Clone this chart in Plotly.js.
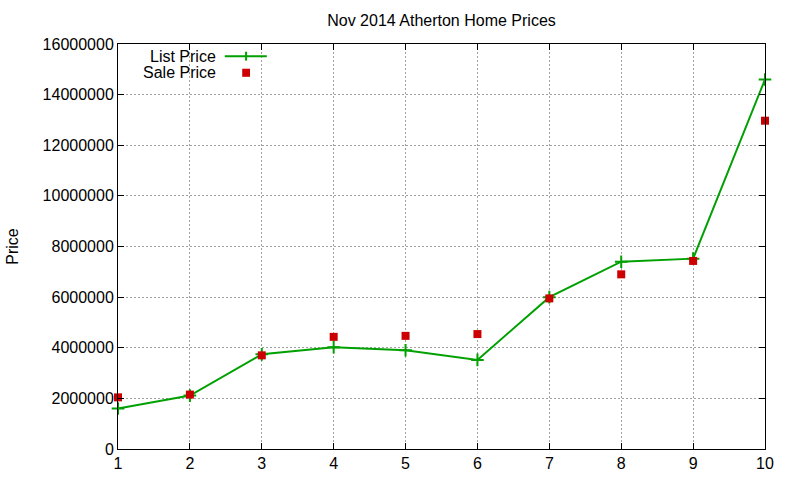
<!DOCTYPE html>
<html>
<head>
<meta charset="utf-8">
<script src="https://cdn.plot.ly/plotly-3.0.1.min.js"></script>
<style>
  body { margin: 0; background: #fff; }
  #graph { width: 800px; height: 480px; }
</style>
</head>
<body>
<div id="graph"></div>
<script>
// Nov 2014 Atherton
const homes = [1, 2, 3, 4, 5, 6, 7, 8, 9, 10];
const listPrice = [1600000, 2110000, 3740000, 4020000, 3900000, 3520000, 6000000, 7400000, 7520000, 14600000];
const salePrice = [2040000, 2150000, 3700000, 4430000, 4470000, 4540000, 5950000, 6900000, 7430000, 12970000];
const yTicks = [0, 2000000, 4000000, 6000000, 8000000, 10000000, 12000000, 14000000, 16000000];

const green = '#00a000';
const red = '#cc0000';
const font = { family: 'Liberation Sans, Arial, sans-serif', size: 16, color: '#000' };

const listTrace = {
  x: homes,
  y: listPrice,
  mode: 'lines+markers',
  name: 'List Price',
  line: { color: green, width: 2 },
  marker: { symbol: 'cross-thin', size: 9, line: { color: green, width: 2 } },
  cliponaxis: false
};
const saleTrace = {
  x: homes,
  y: salePrice,
  mode: 'markers',
  name: 'Sale Price',
  marker: { symbol: 'square', size: 8, color: red },
  cliponaxis: false
};

// gnuplot style key: text on the left, sample on the right
const keyY1 = 0.970, keyY2 = 0.929;
const shapes = [
  { type: 'line', xref: 'paper', yref: 'paper', x0: 0.165, x1: 0.230, y0: keyY1, y1: keyY1,
    line: { color: green, width: 2 } },
  { type: 'line', xref: 'paper', yref: 'paper', x0: 0.198, x1: 0.198, y0: keyY1 - 0.011, y1: keyY1 + 0.011,
    line: { color: green, width: 2 } },
  { type: 'rect', xref: 'paper', yref: 'paper', x0: 0.192, x1: 0.204, y0: keyY2 - 0.010, y1: keyY2 + 0.010,
    fillcolor: red, line: { width: 0 } }
];
const annotations = [
  { text: 'List Price', xref: 'paper', yref: 'paper', x: 0.153, y: keyY1, xanchor: 'right', yanchor: 'middle',
    showarrow: false, font: font, height: 15, borderpad: 0, valign: 'middle' },
  { text: 'Sale Price', xref: 'paper', yref: 'paper', x: 0.153, y: keyY2, xanchor: 'right', yanchor: 'middle',
    showarrow: false, font: font, height: 15, borderpad: 0, valign: 'middle' }
];

const axisCommon = {
  showline: true,
  linecolor: '#000',
  linewidth: 1,
  mirror: 'ticks',
  ticks: 'inside',
  ticklen: 6,
  tickcolor: '#000',
  showgrid: true,
  gridcolor: '#a0a0a0',
  griddash: '2px,2px',
  gridwidth: 1,
  zeroline: false,
  tickfont: font
};

const layout = {
  width: 800,
  height: 480,
  margin: { l: 118, r: 35, t: 44, b: 31, pad: 0 },
  paper_bgcolor: '#fff',
  plot_bgcolor: '#fff',
  showlegend: false,
  title: { text: 'Nov 2014 Atherton Home Prices', font: font, x: 0.5, xref: 'paper',
           y: 1 - 20 / 480, yref: 'container', yanchor: 'middle' },
  xaxis: Object.assign({}, axisCommon, {
    range: [1, 10],
    tickvals: homes,
    ticktext: homes.map(String)
  }),
  yaxis: Object.assign({}, axisCommon, {
    range: [0, 16000000],
    tickvals: yTicks,
    tickformat: 'd',
    title: { text: 'Price', font: font, standoff: 20 }
  }),
  shapes: shapes,
  annotations: annotations
};

Plotly.newPlot('graph', [listTrace, saleTrace], layout, { displayModeBar: false, staticPlot: true });
</script>
</body>
</html>
